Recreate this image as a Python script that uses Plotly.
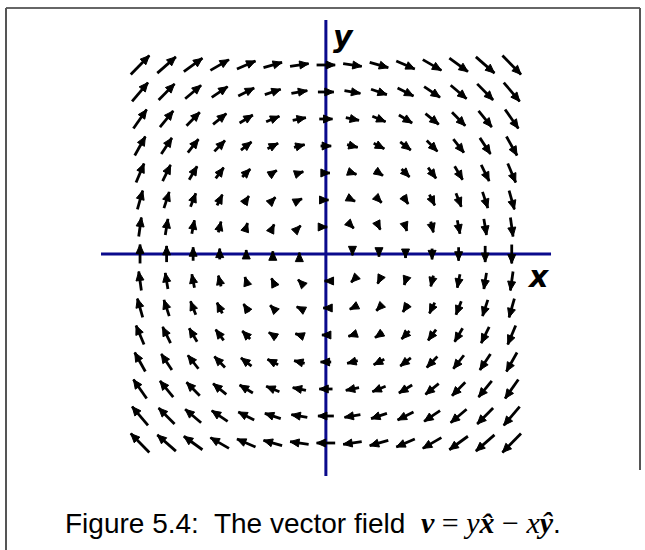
import math
import plotly.graph_objects as go

# Sample grid for the vector field v = y x̂ - x ŷ
grid_x = [-7, -6, -5, -4, -3, -2, -1, 0, 1, 2, 3, 4, 5, 6, 7]
grid_y = [-7, -6, -5, -4, -3, -2, -1, 0, 1, 2, 3, 4, 5, 6, 7]
arrow_scale = 0.1  # drawn length per unit of field magnitude

X_RANGE = [-12.275, 12.02]
Y_RANGE = [-10.963, 9.407]
W, H = 645, 550
px_per_x = W / (X_RANGE[1] - X_RANGE[0])
px_per_y = H / (Y_RANGE[1] - Y_RANGE[0])
HEAD_LEN, HEAD_HALF_W = 9.0, 4.0  # arrowhead size in pixels

caption = ("Figure 5.4:  The vector field  "
           "<span style='font-family:Liberation Serif;font-size:30px'><b><i>v</i></b> = <i>y</i><b><i>x̂</i></b>"
           " − <i>x</i><b><i>ŷ</i></b></span>.")

shaft_x, shaft_y = [], []
head_x, head_y = [], []
for gx in grid_x:
    for gy in grid_y:
        u, w = gy, -gx
        if u == 0 and w == 0:
            continue
        tx, ty = gx - 0.5 * arrow_scale * u, gy - 0.5 * arrow_scale * w
        hx, hy = gx + 0.5 * arrow_scale * u, gy + 0.5 * arrow_scale * w
        shaft_x += [tx, hx, None]
        shaft_y += [ty, hy, None]
        # arrowhead triangle, built in screen pixels then mapped back to data units
        dx, dy = u * px_per_x, w * px_per_y
        n = math.hypot(dx, dy)
        ex, ey = dx / n, dy / n
        bx, by = -ex * HEAD_LEN, -ey * HEAD_LEN
        pxl, pyl = -ey * HEAD_HALF_W, ex * HEAD_HALF_W
        head_x += [hx, hx + (bx + pxl) / px_per_x, hx + (bx - pxl) / px_per_x, hx, None]
        head_y += [hy, hy + (by + pyl) / px_per_y, hy + (by - pyl) / px_per_y, hy, None]

fig = go.Figure()
fig.add_trace(go.Scatter(x=shaft_x, y=shaft_y, mode="lines",
                         line=dict(color="black", width=2.8), hoverinfo="skip"))
fig.add_trace(go.Scatter(x=head_x, y=head_y, mode="lines", fill="toself", fillcolor="black",
                         line=dict(color="black", width=1), hoverinfo="skip"))

annotations = [
    dict(x=0.65, y=8.05, xref="x", yref="y", text="<b><i>y</i></b>", showarrow=False,
         font=dict(family="DejaVu Sans", size=30, color="black")),
    dict(x=8.0, y=-0.85, xref="x", yref="y", text="<b><i>x</i></b>", showarrow=False,
         font=dict(family="DejaVu Sans", size=30, color="black")),
    dict(x=0.485, y=(H - 522) / H, xref="paper", yref="paper", xanchor="center", yanchor="middle",
         text=caption, showarrow=False,
         font=dict(family="Liberation Sans", size=28, color="black")),
]

shapes = [
    # coordinate axes
    dict(type="line", x0=-8.47, x1=8.48, y0=0, y1=0, xref="x", yref="y",
         line=dict(color="#0a0a8c", width=3), layer="below"),
    dict(type="line", x0=0, x1=0, y0=-8.22, y1=8.67, xref="x", yref="y",
         line=dict(color="#0a0a8c", width=3), layer="below"),
    # frame
    dict(type="line", x0=6 / W, x1=640 / W, y0=1 - 8 / H, y1=1 - 8 / H, xref="paper", yref="paper",
         line=dict(color="#666666", width=2)),
    dict(type="line", x0=6 / W, x1=6 / W, y0=0, y1=1 - 8 / H, xref="paper", yref="paper",
         line=dict(color="#555555", width=2)),
    dict(type="line", x0=640 / W, x1=640 / W, y0=1 - 470 / H, y1=1 - 8 / H, xref="paper", yref="paper",
         line=dict(color="#555555", width=2)),
]

fig.update_layout(
    width=W, height=H,
    margin=dict(l=0, r=0, t=0, b=0),
    paper_bgcolor="white", plot_bgcolor="white",
    xaxis=dict(range=X_RANGE, visible=False, fixedrange=True),
    yaxis=dict(range=Y_RANGE, visible=False, fixedrange=True),
    showlegend=False,
    annotations=annotations,
    shapes=shapes,
)

fig.write_html("out.html")
